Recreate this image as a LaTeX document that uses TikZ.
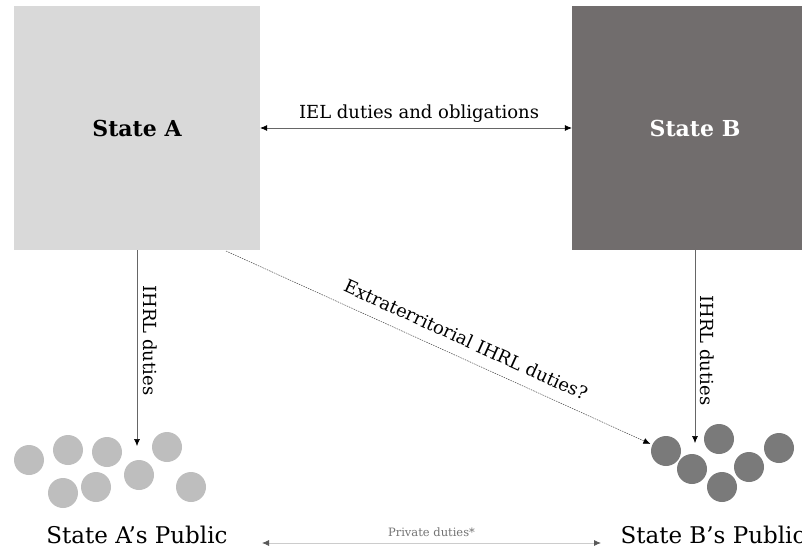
\documentclass[tikz,border=0pt]{standalone}
\usepackage{fontspec}
\setmainfont{DejaVu Serif}
\usetikzlibrary{arrows.meta}
\definecolor{stateAgray}{HTML}{D9D9D9}
\definecolor{stateBgray}{HTML}{716D6D}
\definecolor{publicAgray}{HTML}{BEBEBE}
\definecolor{publicBgray}{HTML}{7A7A7A}
\tikzstyle{statebox}=[minimum width=246pt,minimum height=244pt,inner sep=0pt,font=\fontsize{22}{26}\selectfont\bfseries]
\tikzstyle{personA}=[circle,fill=publicAgray,minimum size=30pt,inner sep=0pt]
\tikzstyle{personB}=[circle,fill=publicBgray,minimum size=30pt,inner sep=0pt]
\tikzstyle{duty}=[gray!80!black,line width=0.6pt,-{Latex[black,length=7pt,width=6pt]}]
\tikzstyle{twoduty}=[gray!80!black,line width=0.6pt,{Latex[black,length=7pt,width=6pt]}-{Latex[black,length=7pt,width=6pt]}]
\tikzstyle{maybeduty}=[black!70,line width=0.5pt,dash pattern=on 1.5pt off 1pt,-{Latex[black,length=7pt,width=6pt]},shorten >=2pt]
\tikzstyle{privateduty}=[black!20,line width=0.8pt,{Latex[black!65,length=7pt,width=6pt]}-{Latex[black!65,length=7pt,width=6pt]}]
\tikzstyle{dutylabel}=[text=black,font=\fontsize{18}{21}\selectfont]
\tikzstyle{publiclabel}=[inner sep=0pt,font=\fontsize{23}{27}\selectfont]

\begin{document}
\begin{tikzpicture}[x=1pt,y=-1pt]
\useasboundingbox (0,0) rectangle (802,548);
	% the two states
	\node[statebox,fill=stateAgray] (stateA) at (137,128) {State A};
	\node[statebox,fill=stateBgray,text=white] (stateB) at (695,128) {State B};
	% their publics
	\foreach \x/\y [count=\i] in {29/460,68/450,107/452,167/447,63/493,96/487,139/475,191/487}
		\node[personA] (pa\i) at (\x,\y) {};
	\foreach \x/\y [count=\i] in {666/451,719/439,779/448,692/469,749/467,722/487}
		\node[personB] (pb\i) at (\x,\y) {};
	\node[publiclabel] (publicA) at (137,535) {State A’s Public};
	\node[publiclabel] (publicB) at (713,535) {State B’s Public};
	% free ends of the arrows
	\coordinate (aIn) at (137,446);
	\coordinate (bIn) at (695,443);
	\coordinate (xOut) at (226,251);
	\coordinate (privA) at (262,543);
	\coordinate (privB) at (601,543);
	% duties
	\draw[twoduty] (stateA.east) -- node[dutylabel,above=2pt,xshift=3pt] {IEL duties and obligations} (stateB.west);
	\draw[duty] (stateA.south) -- node[dutylabel,pos=0.46,rotate=-90,anchor=south,yshift=3pt] {IHRL duties} (aIn);
	\draw[duty] (stateB.south) -- node[dutylabel,pos=0.52,rotate=-90,anchor=south,yshift=2pt] {IHRL duties} (bIn);
	\draw[maybeduty] (xOut) -- node[dutylabel,pos=0.545,sloped,above=8pt] {Extraterritorial IHRL duties?} (pb1);
	\draw[privateduty] (privA) -- node[above=3pt,text=black!55,font=\fontsize{11.5}{13}\selectfont] {Private duties*} (privB);
\end{tikzpicture}
\end{document}
